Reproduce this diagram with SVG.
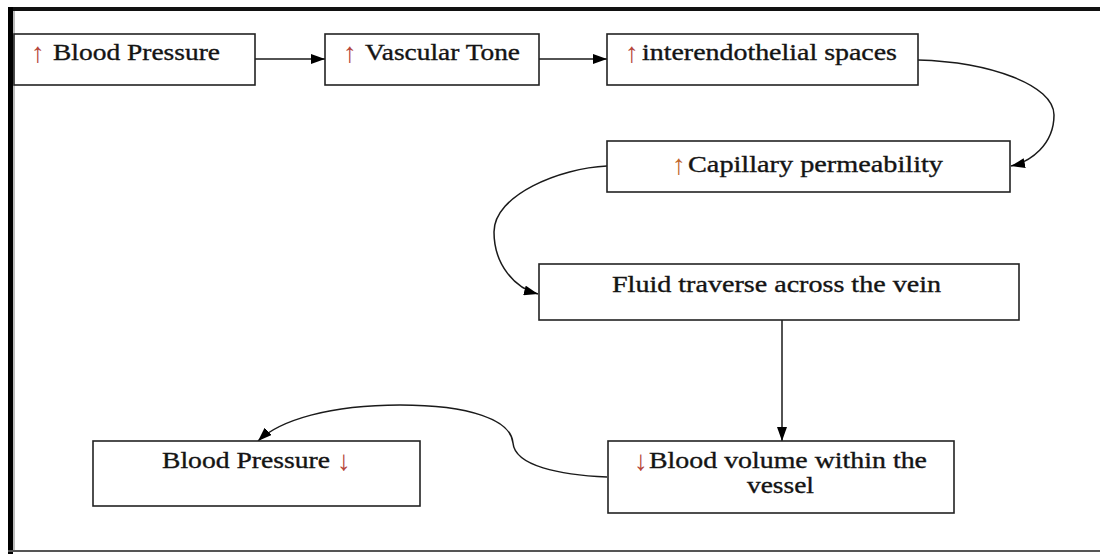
<svg xmlns="http://www.w3.org/2000/svg" width="1100" height="554" viewBox="0 0 1100 554">
  <defs>
    <style>
      .box { fill: #ffffff; stroke: #222222; stroke-width: 1.6; }
      .t { font-family: "Liberation Serif", "Times New Roman", "DejaVu Serif", serif; font-size: 23px; fill: #141414; stroke: #141414; stroke-width: 0.35; }
      .ar { font-family: "Liberation Serif", "DejaVu Serif", serif; font-size: 28px; fill: #b5453a; }
      .conn { fill: none; stroke: #1a1a1a; stroke-width: 1.5; }
    </style>
    <marker id="ah" viewBox="0 0 14 10" refX="14" refY="5" markerWidth="14" markerHeight="10" markerUnits="userSpaceOnUse" orient="auto">
      <path d="M0,0 L14,5 L0,10 Z" fill="#000000"/>
    </marker>
  </defs>
  <rect x="0" y="0" width="1100" height="554" fill="#ffffff"/>
  <g id="frame">
    <rect x="8" y="7" width="1092" height="4" fill="#111111"/>
    <rect x="8" y="7" width="5" height="547" fill="#000000"/>
    <rect x="13" y="11" width="2" height="540" fill="#bbbbbb"/>
    <rect x="8" y="550" width="1092" height="2" fill="#555555"/>
  </g>
  <g id="connectors">
    <path class="conn" d="M255,59 L325,59" marker-end="url(#ah)"/>
    <path class="conn" d="M539,59 L607,59" marker-end="url(#ah)"/>
    <path class="conn" d="M918,60 C990,62 1054,85 1054,115 C1054,145 1030,162 1011,166" marker-end="url(#ah)"/>
    <path class="conn" d="M607,166 C560,168 494,195 494,232 C494,265 515,288 538,294" marker-end="url(#ah)"/>
    <path class="conn" d="M782,320 L782,441" marker-end="url(#ah)"/>
    <path class="conn" d="M607,477 C560,475 515,466 513,443 C511,420 470,405 400,405 C330,405 280,420 258,441" marker-end="url(#ah)"/>
  </g>
  <g id="n1">
    <rect class="box" x="14" y="34" width="241" height="51"/>
    <text class="ar" x="31" y="62">↑</text>
    <text class="t" x="53" y="60" textLength="167" lengthAdjust="spacingAndGlyphs">Blood Pressure</text>
  </g>
  <g id="n2">
    <rect class="box" x="325" y="34" width="214" height="51"/>
    <text class="ar" x="343" y="62">↑</text>
    <text class="t" x="365" y="60" textLength="155" lengthAdjust="spacingAndGlyphs">Vascular Tone</text>
  </g>
  <g id="n3">
    <rect class="box" x="607" y="34" width="311" height="51"/>
    <text class="ar" x="625" y="62">↑</text>
    <text class="t" x="642" y="60" textLength="255" lengthAdjust="spacingAndGlyphs">interendothelial spaces</text>
  </g>
  <g id="n4">
    <rect class="box" x="607" y="141" width="403" height="51"/>
    <text class="ar" x="672" y="174" style="fill:#c0652b">↑</text>
    <text class="t" x="688" y="172" textLength="255" lengthAdjust="spacingAndGlyphs">Capillary permeability</text>
  </g>
  <g id="n5">
    <rect class="box" x="539" y="264" width="480" height="56"/>
    <text class="t" x="612" y="292" textLength="329" lengthAdjust="spacingAndGlyphs">Fluid traverse across the vein</text>
  </g>
  <g id="n6">
    <rect class="box" x="608" y="441" width="346" height="72"/>
    <text class="ar" x="634" y="470">↓</text>
    <text class="t" x="649" y="468" textLength="278" lengthAdjust="spacingAndGlyphs">Blood volume within the</text>
    <text class="t" x="747" y="493" textLength="67" lengthAdjust="spacingAndGlyphs">vessel</text>
  </g>
  <g id="n7">
    <rect class="box" x="93" y="441" width="327" height="65"/>
    <text class="t" x="162" y="468" textLength="168" lengthAdjust="spacingAndGlyphs">Blood Pressure</text>
    <text class="ar" x="337" y="470">↓</text>
  </g>
</svg>
